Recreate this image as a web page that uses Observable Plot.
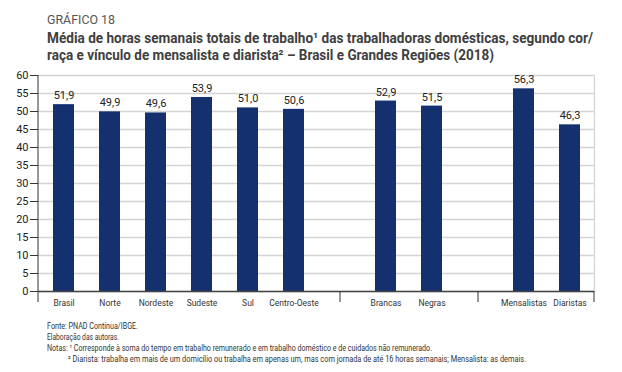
<!DOCTYPE html>
<html><head><meta charset="utf-8">
<script src="https://cdn.jsdelivr.net/npm/d3@7"></script>
<script src="https://cdn.jsdelivr.net/npm/@observablehq/plot@0.6"></script>
<style>
body{margin:0;background:#fff;width:622px;height:372px;overflow:hidden;position:relative;font-family:Roboto,"Open Sans",sans-serif}
#head,#chart,#notes{position:absolute;left:0}
#head{top:0}
#chart{top:66px}
#notes{top:312px}
</style></head><body>
<svg id="head" width="622" height="66"></svg>
<div id="chart"></div>
<svg id="notes" width="622" height="60"></svg>
<script>
// ---- data ----
const categories = ["Brasil","Norte","Nordeste","Sudeste","Sul","Centro-Oeste","Brancas","Negras","Mensalistas","Diaristas"];
const values = [51.9, 49.9, 49.6, 53.9, 51.0, 50.6, 52.9, 51.5, 56.3, 46.3];
const xSlots = ["Brasil","Norte","Nordeste","Sudeste","Sul","Centro-Oeste","sep1","Brancas","Negras","sep2","Mensalistas","Diaristas"];
const separators = ["sep1","sep2"];
const yTicks = [0,5,10,15,20,25,30,35,40,45,50,55,60];
const yDomain = [0, 60];
const title = "GRÁFICO 18";
const subtitle1 = "Média de horas semanais totais de trabalho¹ das trabalhadoras domésticas, segundo cor/";
const subtitle2 = "raça e vínculo de mensalista e diarista² – Brasil e Grandes Regiões (2018)";
const notes = [
  "Fonte: PNAD Contínua/IBGE.",
  "Elaboração das autoras.",
  "Notas: ¹ Corresponde à soma do tempo em trabalho remunerado e em trabalho doméstico e de cuidados não remunerado.",
  "² Diarista: trabalha em mais de um domicílio ou trabalha em apenas um, mas com jornada de até 16 horas semanais; Mensalista: as demais."
];

const data = categories.map((c, i) => ({cat: c, value: values[i]}));
const fmt = v => d3.format(".1f")(v).replace(".", ",");
const FONT = "Roboto, 'Open Sans', sans-serif";
const BAR = "#14306e";
const tickLen = 11;

// header
const head = d3.select("#head");
head.append("text").attr("x", 47).attr("y", 24).attr("font-size", 12.5).attr("fill", "#555")
  .attr("font-family", FONT).attr("textLength", 68).attr("lengthAdjust", "spacingAndGlyphs").text(title);
head.append("text").attr("x", 47).attr("y", 43).attr("font-size", 14).attr("font-weight", "bold").attr("fill", "#404040")
  .attr("font-family", FONT).attr("textLength", 546).attr("lengthAdjust", "spacingAndGlyphs").text(subtitle1);
head.append("text").attr("x", 47).attr("y", 60).attr("font-size", 14).attr("font-weight", "bold").attr("fill", "#404040")
  .attr("font-family", FONT).attr("textLength", 447).attr("lengthAdjust", "spacingAndGlyphs").text(subtitle2);

// axis lines derived from scales/dimensions
function axisLines(index, scales, values, dims) {
  const g = d3.create("svg:g").attr("stroke", "#333").attr("stroke-width", 1);
  const x0 = dims.marginLeft, x1 = dims.width - dims.marginRight;
  const yTop = scales.y(yDomain[1]), yBase = scales.y(yDomain[0]);
  g.append("line").attr("x1", x0).attr("x2", x0).attr("y1", yTop).attr("y2", yBase + tickLen);
  g.append("line").attr("x1", x1).attr("x2", x1).attr("y1", yBase).attr("y2", yBase + tickLen);
  return g.node();
}

const chart = Plot.plot({
  width: 622,
  height: 246,
  marginLeft: 38,
  marginRight: 28,
  marginTop: 9,
  marginBottom: 21,
  style: {fontFamily: FONT, fontSize: "11px", color: "#222", background: "white"},
  x: {type: "band", domain: xSlots, paddingInner: 0.55, paddingOuter: 0.275, label: null},
  y: {domain: yDomain, label: null},
  marks: [
    Plot.gridY(yTicks, {stroke: "#d4d4d4", strokeOpacity: 1, strokeWidth: 1.3}),
    Plot.frame({anchor: "right", stroke: "#d4d4d4", strokeWidth: 1.3}),
    Plot.barY(data, {x: "cat", y: "value", fill: BAR}),
    Plot.text(data, {x: "cat", y: "value", text: d => fmt(d.value), dy: -9, fontSize: 11, fill: "#222"}),
    Plot.ruleY([0], {stroke: "#444", strokeWidth: 1.3}),
    axisLines,
    Plot.axisY(yTicks, {label: null, tickSize: 8, tickPadding: 2, fontSize: 11, fill: "#222", stroke: "#333"}),
    Plot.axisX(separators, {label: null, tickSize: tickLen, tickFormat: () => "", stroke: "#333"}),
    Plot.axisX(categories, {label: null, tickSize: 0, tickPadding: 8, fontSize: 8.5, fill: "#333"})
  ]
});
document.getElementById("chart").appendChild(chart);

// notes
const nt = d3.select("#notes");
const noteX = [47, 47, 47, 68];
const noteY = [17, 28, 39, 50];
const noteW = [91, 72, 385, 458];
notes.forEach((t, i) => {
  nt.append("text").attr("x", noteX[i]).attr("y", noteY[i]).attr("font-size", 8.5).attr("fill", "#333")
    .attr("font-family", FONT).attr("textLength", noteW[i]).attr("lengthAdjust", "spacingAndGlyphs").text(t);
});
</script>
</body></html>
